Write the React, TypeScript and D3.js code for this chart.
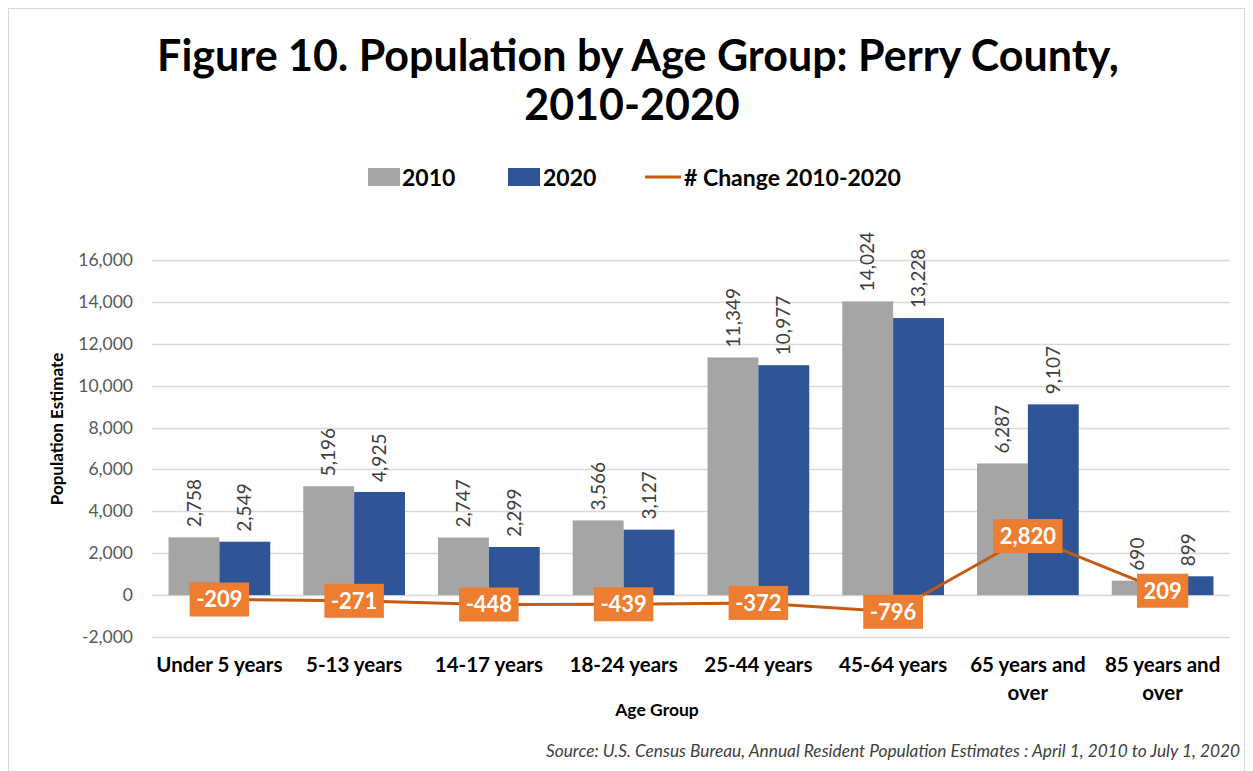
import React, { useEffect, useRef } from "react";
import * as d3 from "d3";

const categories = [
  ["Under 5 years"],
  ["5-13 years"],
  ["14-17 years"],
  ["18-24 years"],
  ["25-44 years"],
  ["45-64 years"],
  ["65 years and", "over"],
  ["85 years and", "over"],
];
const values2010 = [2758, 5196, 2747, 3566, 11349, 14024, 6287, 690];
const values2020 = [2549, 4925, 2299, 3127, 10977, 13228, 9107, 899];
const change = [-209, -271, -448, -439, -372, -796, 2820, 209];
const yTicks = [-2000, 0, 2000, 4000, 6000, 8000, 10000, 12000, 14000, 16000];
const seriesNames = ["2010", "2020", "# Change 2010-2020"];

const FONT = "Lato, 'Open Sans', sans-serif";
const GRAY = "#A5A5A5";
const BLUE = "#2F5597";
const LINE = "#C55A11";
const BOX = "#ED7D31";

export default function App() {
  const ref = useRef<SVGSVGElement>(null);
  useEffect(() => {
    const svg = d3.select(ref.current);
    svg.selectAll("*").remove();
    const W = 1253, H = 771;
    const left = 152, right = 1230, top = 260, bottom = 637;
    const keys = categories.map((c) => c.join(" "));
    const x0 = d3.scaleBand<string>().domain(keys).range([left, right]).paddingInner(0.245).paddingOuter(0.1225);
    const x1 = d3.scaleBand<string>().domain(["2010", "2020"]).range([0, x0.bandwidth()]);
    const y = d3.scaleLinear().domain([-2000, 16000]).range([bottom, top]);
    const fmt = d3.formatLocale({ decimal: ".", thousands: ",", grouping: [3], currency: ["$", ""], minus: "-" }).format(",");

    svg.append("rect").attr("x", 8.5).attr("y", 8.5).attr("width", W - 17).attr("height", H).attr("fill", "#fff").attr("stroke", "#D9D9D9");

    // title
    const title = svg.append("text").attr("text-anchor", "middle").attr("font-family", FONT).attr("font-weight", "bold").attr("font-size", 43).attr("fill", "#000");
    title.append("tspan").attr("x", 638).attr("y", 71).text("Figure 10. Population by Age Group: Perry County,");
    title.append("tspan").attr("x", 632).attr("y", 120).text("2010-2020");

    // legend
    const lg = svg.append("g").attr("font-family", FONT).attr("font-weight", "bold").attr("font-size", 23);
    lg.append("rect").attr("x", 368).attr("y", 168).attr("width", 32).attr("height", 18).attr("fill", GRAY);
    lg.append("text").attr("x", 402).attr("y", 186).text(seriesNames[0]);
    lg.append("rect").attr("x", 508).attr("y", 168).attr("width", 32).attr("height", 18).attr("fill", BLUE);
    lg.append("text").attr("x", 543).attr("y", 186).text(seriesNames[1]);
    lg.append("line").attr("x1", 645).attr("x2", 681).attr("y1", 177).attr("y2", 177).attr("stroke", LINE).attr("stroke-width", 3);
    lg.append("text").attr("x", 684).attr("y", 186).text(seriesNames[2]);

    // grid + y ticks
    const ga = svg.append("g");
    yTicks.forEach((t) => {
      ga.append("line").attr("x1", left).attr("x2", right).attr("y1", Math.round(y(t)) + 0.5).attr("y2", Math.round(y(t)) + 0.5).attr("stroke", "#D9D9D9").attr("stroke-width", 1.3);
      ga.append("text").attr("x", 133).attr("y", y(t) + 6).attr("text-anchor", "end").attr("font-family", FONT).attr("font-size", 17.5).attr("fill", "#595959").text(fmt(t));
    });

    svg.append("text").attr("transform", `translate(63,429) rotate(-90)`).attr("text-anchor", "middle").attr("font-family", FONT).attr("font-weight", "bold").attr("font-size", 17).attr("fill", "#000").text("Population Estimate");

    // bars
    const bars = svg.append("g");
    const lbls = svg.append("g").attr("font-family", FONT).attr("font-size", 19).attr("fill", "#404040");
    keys.forEach((k, i) => {
      [["2010", values2010[i], GRAY], ["2020", values2020[i], BLUE]].forEach(([s, v, c]: any) => {
        const bx = (x0(k) as number) + (x1(s) as number);
        bars.append("rect").attr("x", bx).attr("y", y(v)).attr("width", x1.bandwidth()).attr("height", y(0) - y(v)).attr("fill", c);
        lbls.append("text").attr("transform", `translate(${bx + x1.bandwidth() / 2},${y(v) - 10}) rotate(-90)`).attr("dy", "0.35em").text(fmt(v));
      });
    });

    // line
    const cx = (i: number) => (x0(keys[i]) as number) + x0.bandwidth() / 2;
    const line = d3.line<number>().x((_, i) => cx(i)).y((d) => y(d));
    svg.append("path").attr("d", line(change) as string).attr("fill", "none").attr("stroke", LINE).attr("stroke-width", 3);

    const cl = svg.append("g").attr("font-family", FONT).attr("font-weight", "bold").attr("font-size", 22);
    change.forEach((v, i) => {
      const g = cl.append("g").attr("transform", `translate(${cx(i)},${y(v)})`);
      const r = g.append("rect").attr("fill", BOX);
      const t = g.append("text").attr("text-anchor", "middle").attr("dy", "0.36em").attr("fill", "#fff").text(fmt(v));
      const bb = (t.node() as SVGTextElement).getBBox();
      const w = bb.width + 13, h = 34;
      r.attr("x", -w / 2).attr("y", -h / 2).attr("width", w).attr("height", h);
    });

    // x labels
    const xl = svg.append("g").attr("font-family", FONT).attr("font-weight", "bold").attr("font-size", 20.5).attr("text-anchor", "middle").attr("fill", "#000");
    categories.forEach((lines, i) => {
      lines.forEach((ln, j) => {
        xl.append("text").attr("x", cx(i)).attr("y", 672 + j * 28).text(ln);
      });
    });
    svg.append("text").attr("x", 657).attr("y", 716).attr("text-anchor", "middle").attr("font-family", FONT).attr("font-weight", "bold").attr("font-size", 17.5).text("Age Group");

    svg.append("text").attr("x", 1240).attr("y", 757).attr("text-anchor", "end").attr("font-family", FONT).attr("font-style", "italic").attr("font-size", 17.3).attr("fill", "#404040").text("Source: U.S. Census Bureau, Annual Resident Population Estimates : April 1, 2010 to July 1, 2020");
  }, []);
  return <svg ref={ref} width={1253} height={771} style={{ position: "absolute", left: 0, top: 0, background: "#fff" }} />;
}
